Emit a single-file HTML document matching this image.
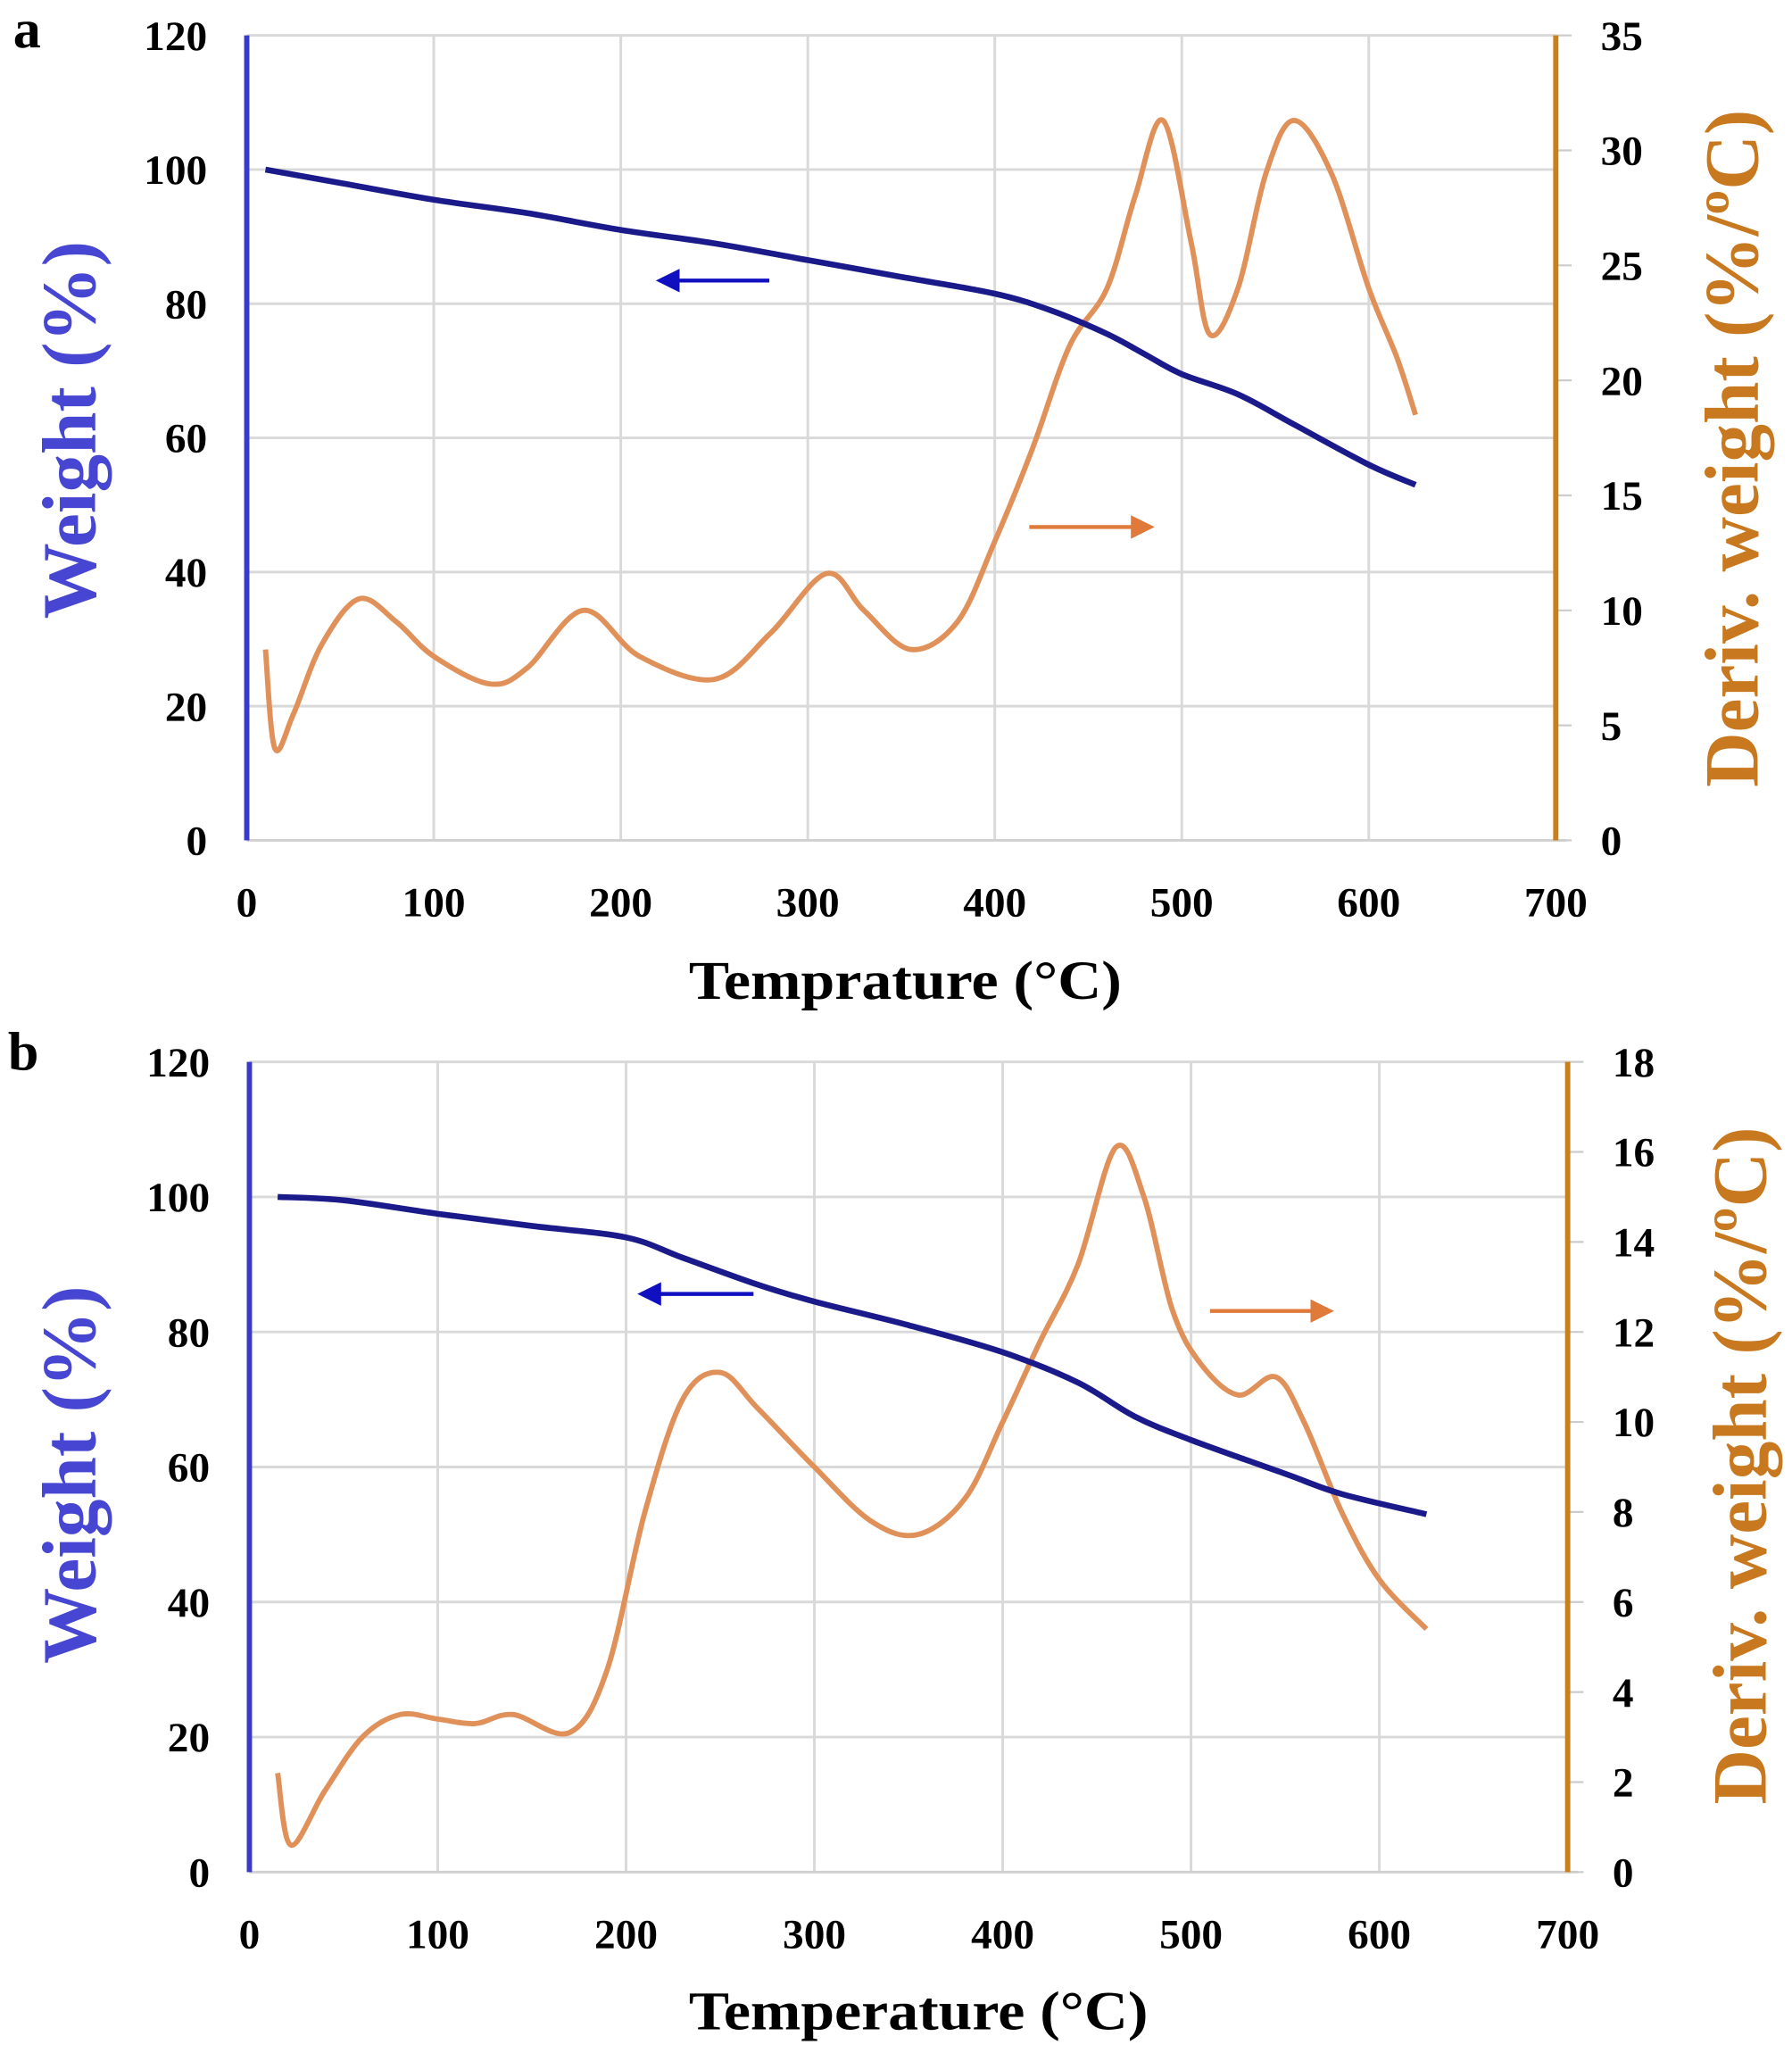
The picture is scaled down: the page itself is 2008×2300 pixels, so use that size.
<!DOCTYPE html>
<html><head><meta charset="utf-8"><style>
html,body{margin:0;padding:0;background:#fff;}
svg{display:block;}
text{font-family:"Liberation Serif",serif;font-weight:bold;}
</style></head><body>
<svg id="s" width="2008" height="2300" viewBox="0 0 1358 1566" preserveAspectRatio="none" xmlns="http://www.w3.org/2000/svg">
<defs>
<marker id="ab" markerWidth="6" markerHeight="6" refX="5" refY="3" orient="auto"><path d="M0,0 L6,3 L0,6 z" fill="#1010c0"/></marker>
<marker id="ao" markerWidth="6" markerHeight="6" refX="5" refY="3" orient="auto"><path d="M0,0 L6,3 L0,6 z" fill="#e07a3a"/></marker>
</defs>
<g id="g"></g>
<text x="10" y="36" font-size="42">a</text>
<text x="6" y="816" font-size="42">b</text>
<text x="522" y="762" font-size="42" textLength="328" lengthAdjust="spacingAndGlyphs">Temprature  (°C)</text>
<text x="522" y="1548" font-size="42" textLength="348" lengthAdjust="spacingAndGlyphs">Temperature  (°C)</text>
<text transform="translate(72,328) rotate(-90)" font-size="58" fill="#4646d2" text-anchor="middle">Weight (%)</text>
<text transform="translate(72,1125) rotate(-90)" font-size="58" fill="#4646d2" text-anchor="middle">Weight (%)</text>
<text transform="translate(1332,342) rotate(-90)" font-size="58" fill="#c8781e" text-anchor="middle">Deriv. weight (%/ºC)</text>
<text transform="translate(1338,1118) rotate(-90)" font-size="58" fill="#c8781e" text-anchor="middle">Deriv. weight (%/ºC)</text>
<line x1="583" y1="214" x2="500" y2="214" stroke="#1010c0" stroke-width="3" marker-end="url(#ab)"/>
<line x1="780" y1="402" x2="872" y2="402" stroke="#e07a3a" stroke-width="3" marker-end="url(#ao)"/>
<line x1="571" y1="987" x2="486" y2="987" stroke="#1010c0" stroke-width="3" marker-end="url(#ab)"/>
<line x1="917" y1="1000" x2="1008" y2="1000" stroke="#e07a3a" stroke-width="3" marker-end="url(#ao)"/>
</svg>
<script>
var NS="http://www.w3.org/2000/svg",g=document.getElementById("g");
function el(t,a,txt){var e=document.createElementNS(NS,t);for(var k in a)e.setAttribute(k,a[k]);if(txt!=null)e.textContent=txt;g.appendChild(e);return e;}
function cr(p){var d="M"+p[0][0]+","+p[0][1];for(var i=0;i<p.length-1;i++){var p0=p[i-1]||p[i],p1=p[i],p2=p[i+1],p3=p[i+2]||p2;
d+=" C"+(p1[0]+(p2[0]-p0[0])/6)+","+(p1[1]+(p2[1]-p0[1])/6)+" "+(p2[0]-(p3[0]-p1[0])/6)+","+(p2[1]-(p3[1]-p1[1])/6)+" "+p2[0]+","+p2[1];}return d;}
function plot(o){
 var X=function(t){return o.x0+(o.x1-o.x0)*t/700},Y=function(w){return o.y0-(o.y0-o.y1)*w/120},R=function(v){return o.y0-(o.y0-o.y1)*v/o.rmax};
 for(var t=100;t<=700;t+=100)el("line",{x1:X(t),x2:X(t),y1:o.y1,y2:o.y0,stroke:"#d9d9d9","stroke-width":2});
 for(var w=20;w<=120;w+=20)el("line",{x1:o.x0,x2:o.x1,y1:Y(w),y2:Y(w),stroke:"#d9d9d9","stroke-width":2});
 el("line",{x1:o.x0,x2:o.x1+8,y1:o.y0,y2:o.y0,stroke:"#d0d0d0","stroke-width":2});
 for(var v=0;v<=o.rmax;v+=o.rstep){el("line",{x1:o.x1,x2:o.x1+12,y1:R(v),y2:R(v),stroke:"#ccc","stroke-width":1.5});
  el("text",{x:o.x1+34,y:R(v)+11,"font-size":32},String(v));}
 el("line",{x1:o.x0,x2:o.x0,y1:o.y1,y2:o.y0,stroke:"#3a3ac8","stroke-width":4});
 el("line",{x1:o.x1,x2:o.x1,y1:o.y1,y2:o.y0,stroke:"#c8801e","stroke-width":4});
 for(var w=0;w<=120;w+=20)el("text",{x:o.x0-30,y:Y(w)+11,"font-size":32,"text-anchor":"end"},String(w));
 for(var t=0;t<=700;t+=100)el("text",{x:X(t),y:o.y0+58,"font-size":32,"text-anchor":"middle"},String(t));
 el("path",{d:cr(o.o.map(function(p){return[X(p[0]),R(p[1])]})),fill:"none",stroke:"#e0915a","stroke-width":4,"stroke-linejoin":"round"});
 el("path",{d:cr(o.b.map(function(p){return[X(p[0]),Y(p[1])]})),fill:"none",stroke:"#1a1a8a","stroke-width":4.5,"stroke-linejoin":"round"});
}
plot({x0:187,x1:1179,y0:641,y1:27,rmax:35,rstep:5,
b:[[10,100],[50,98],[100,95.5],[150,93.5],[200,91],[250,89],[300,86.5],[350,84],[400,81.5],[430,79],[460,75.5],[480,72.5],[500,69.5],[530,66.5],[560,62],[600,56],[625,53]],
o:[[10,8.3],[15,4],[25,5.5],[40,8.5],[60,10.5],[80,9.5],[100,8],[130,6.8],[150,7.5],[180,10],[210,8],[250,7],[280,9],[310,11.6],[330,10],[355,8.3],[380,9.5],[400,13],[420,17],[440,21.5],[460,24],[475,28],[490,31.3],[505,26],[515,22],[530,24],[545,29],[560,31.3],[580,29],[600,24],[615,21],[625,18.5]]});
plot({x0:189,x1:1188,y0:1428,y1:810,rmax:18,rstep:2,
b:[[15,100],[50,99.5],[100,97.5],[150,95.7],[200,94],[230,91],[270,87],[300,84.5],[350,81],[400,77],[440,72.5],[470,67.5],[500,64],[550,59],[580,56],[625,53]],
o:[[15,2.2],[22,0.6],[40,1.8],[60,3],[80,3.5],[100,3.4],[120,3.3],[140,3.5],[170,3.1],[190,4.5],[210,8],[230,10.5],[250,11.1],[270,10.3],[300,9],[330,7.8],[355,7.5],[380,8.3],[400,10],[420,11.8],[440,13.5],[460,16.1],[475,15],[490,12.5],[505,11.3],[525,10.6],[545,11],[560,10],[580,8],[600,6.5],[625,5.4]]});
</script>
</body></html>
